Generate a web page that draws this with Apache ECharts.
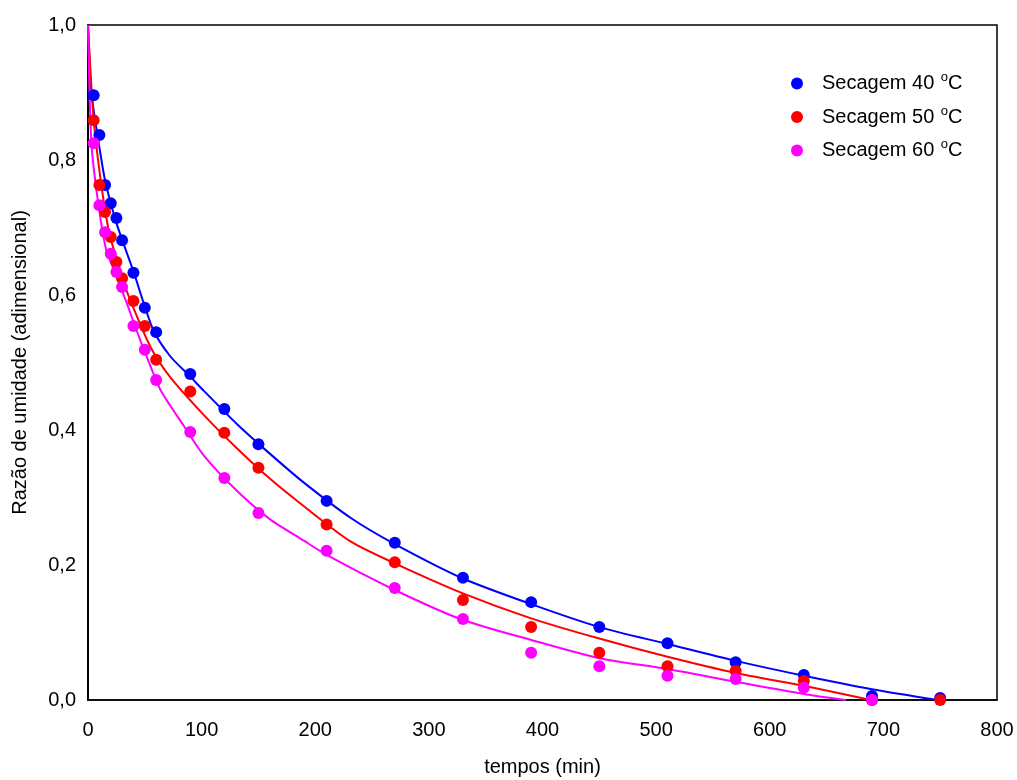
<!DOCTYPE html>
<html>
<head>
<meta charset="utf-8">
<script src="https://cdn.jsdelivr.net/npm/echarts@6/dist/echarts.min.js"></script>
<style>html,body{margin:0;padding:0;background:#fff}#c{width:1017px;height:780px}</style>
</head>
<body>
<div id="c"></div>
<script>
// measured points [tempo (min), razão de umidade]
var pts40 = [[5,0.896],[10,0.837],[15,0.763],[20,0.736],[25,0.714],[30,0.681],[40,0.633],[50,0.581],[60,0.545],[90,0.483],[120,0.431],[150,0.379],[210,0.295],[270,0.233],[330,0.181],[390,0.145],[450,0.108],[510,0.084],[570,0.056],[630,0.037],[690,0.006],[750,0.003]];
var pts50 = [[5,0.859],[10,0.763],[15,0.723],[20,0.686],[25,0.649],[30,0.625],[40,0.591],[50,0.554],[60,0.504],[90,0.457],[120,0.396],[150,0.344],[210,0.260],[270,0.204],[330,0.148],[390,0.108],[450,0.070],[510,0.050],[570,0.043],[630,0.028],[690,0.0],[750,0.0]];
var pts60 = [[5,0.825],[10,0.733],[15,0.693],[20,0.661],[25,0.634],[30,0.612],[40,0.554],[50,0.519],[60,0.474],[90,0.397],[120,0.329],[150,0.277],[210,0.221],[270,0.166],[330,0.120],[390,0.070],[450,0.050],[510,0.036],[570,0.031],[630,0.018],[690,0.0]];
// fitted curves
var fit40 = [[0,1.0],[3,0.90],[9,0.83],[15,0.77],[24,0.712],[30,0.682],[40,0.635],[57,0.55],[72,0.51],[90,0.479],[102,0.458],[131,0.409],[160,0.365],[190,0.322],[231,0.270],[270,0.231],[330,0.180],[390,0.142],[450,0.108],[510,0.083],[570,0.058],[630,0.036],[690,0.016],[748,0.0]];
var fit50 = [[0,1.0],[5,0.86],[12,0.76],[19,0.69],[30,0.627],[37,0.593],[55,0.523],[72,0.479],[102,0.422],[131,0.373],[160,0.328],[190,0.287],[231,0.235],[270,0.2025],[330,0.158],[390,0.121],[450,0.091],[510,0.064],[570,0.040],[630,0.021],[689,0.0]];
var fit60 = [[0,1.0],[3,0.825],[9,0.736],[16,0.667],[24,0.632],[33,0.593],[46,0.533],[63,0.462],[72,0.437],[84,0.407],[102,0.362],[131,0.310],[160,0.268],[190,0.236],[210,0.215],[270,0.163],[330,0.1185],[390,0.089],[450,0.062],[510,0.046],[570,0.027],[630,0.009],[667,0.0]];
var names = ['Secagem 40 {s|o}C','Secagem 50 {s|o}C','Secagem 60 {s|o}C'];
var colors = ['#0000ff','#ff0000','#ff00ff'];

var chart = echarts.init(document.getElementById('c'));
var font = 'Liberation Sans, Arial, sans-serif';
var series = [];
var fits = [fit40, fit50, fit60];
var pts = [pts40, pts50, pts60];
for (var i = 0; i < 3; i++) {
  series.push({type:'line', data: fits[i], smooth: 0.25, showSymbol:false, symbol:'none',
    lineStyle:{color:colors[i], width:2}, itemStyle:{color:colors[i]}, silent:true, z:2, clip:true});
}
for (var i = 0; i < 3; i++) {
  series.push({type:'scatter', name: names[i], data: pts[i], symbol:'circle', symbolSize: 12,
    itemStyle:{color:colors[i], opacity:1}, z:3});
}
chart.setOption({
  animation:false,
  backgroundColor:'#fff',
  grid:{left:88, right:20, top:25, bottom:80, show:true, borderColor:'#000', borderWidth:1.5, outerBoundsMode:'none'},
  legend:{
    data: names, left: 786, top: 66, orient:'vertical', itemGap: 11,
    icon:'circle', itemWidth: 12, itemHeight: 12,
    textStyle:{fontFamily:font, fontSize:20, color:'#000', padding:[0,0,0,14],
      rich:{s:{fontFamily:font, fontSize:13, verticalAlign:'top', padding:[0,0,12,1], color:'#000'}}}
  },
  xAxis:{type:'value', min:0, max:800, interval:100,
    name:'tempos (min)', nameLocation:'middle', nameGap:57,
    nameTextStyle:{fontFamily:font, fontSize:20, color:'#000'},
    axisLine:{show:true, onZero:false, lineStyle:{color:'#000', width:1.5}},
    axisTick:{show:false}, splitLine:{show:false},
    axisLabel:{fontFamily:font, fontSize:20, color:'#000', margin:20}
  },
  yAxis:{type:'value', min:0, max:1, interval:0.2,
    name:'Razão de umidade (adimensional)', nameLocation:'middle', nameGap:58,
    nameTextStyle:{fontFamily:font, fontSize:20, color:'#000'},
    axisLine:{show:true, lineStyle:{color:'#000', width:2}},
    axisTick:{show:false}, splitLine:{show:false},
    axisLabel:{fontFamily:font, fontSize:20, color:'#000', margin:12,
      formatter:function(v){return v.toFixed(1).replace('.',',');}}
  },
  series: series
});
</script>
</body>
</html>
